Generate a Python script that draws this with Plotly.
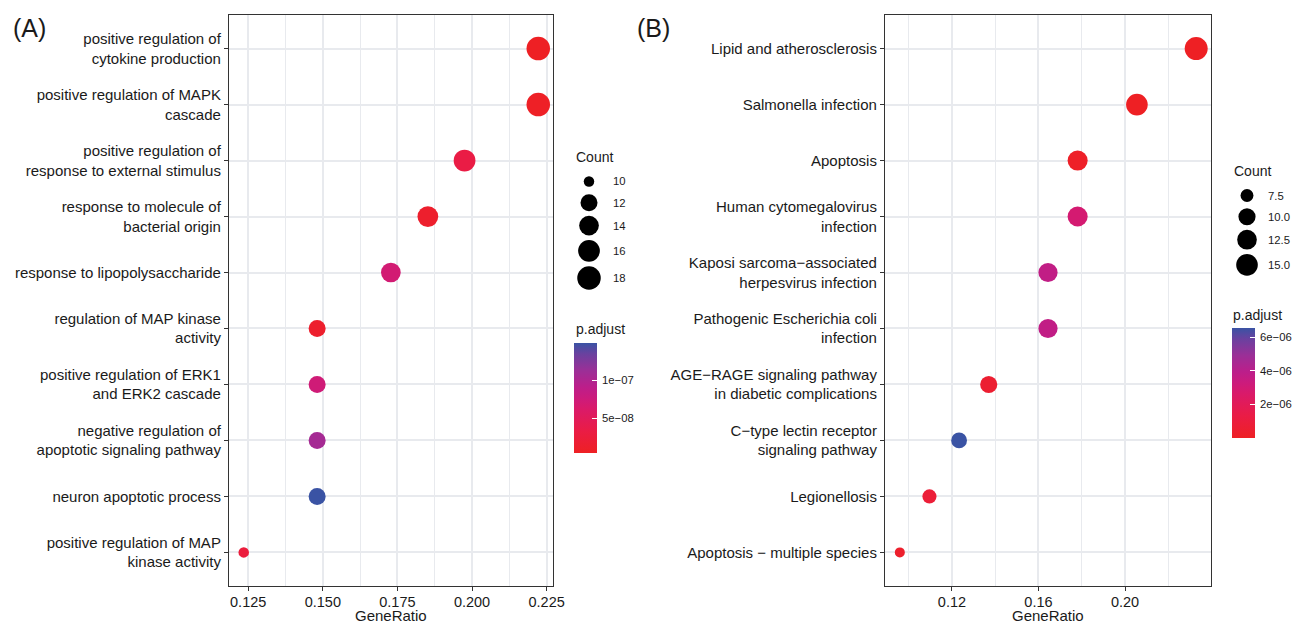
import numpy as np
import plotly.graph_objects as go

# ---------------- data ----------------
terms_a = [
    "positive regulation of<br>cytokine production",
    "positive regulation of MAPK<br>cascade",
    "positive regulation of<br>response to external stimulus",
    "response to molecule of<br>bacterial origin",
    "response to lipopolysaccharide",
    "regulation of MAP kinase<br>activity",
    "positive regulation of ERK1<br>and ERK2 cascade",
    "negative regulation of<br>apoptotic signaling pathway",
    "neuron apoptotic process",
    "positive regulation of MAP<br>kinase activity",
]
ratio_a = [0.2222, 0.2222, 0.1975, 0.1852, 0.1728, 0.1481, 0.1481, 0.1481, 0.1481, 0.1235]
count_a = [18, 18, 16, 15, 14, 12, 12, 12, 12, 10]
padj_a = [4e-09, 6e-09, 3.3e-08, 1.2e-08, 7.0e-08, 1.2e-08, 7.3e-08, 1.06e-07, 1.49e-07, 2.6e-08]

terms_b = [
    "Lipid and atherosclerosis",
    "Salmonella infection",
    "Apoptosis",
    "Human cytomegalovirus<br>infection",
    "Kaposi sarcoma\u2212associated<br>herpesvirus infection",
    "Pathogenic Escherichia coli<br>infection",
    "AGE\u2212RAGE signaling pathway<br>in diabetic complications",
    "C\u2212type lectin receptor<br>signaling pathway",
    "Legionellosis",
    "Apoptosis \u2212 multiple species",
]
ratio_b = [0.2329, 0.2055, 0.1781, 0.1781, 0.1644, 0.1644, 0.1370, 0.1233, 0.1096, 0.0959]
count_b = [17, 15, 13, 13, 12, 12, 10, 9, 8, 7]
padj_b = [1e-09, 2e-08, 1.5e-07, 2.9e-06, 3.7e-06, 3.7e-06, 5e-07, 6.54e-06, 8e-07, 3e-07]

xticks_a = [0.125, 0.150, 0.175, 0.200, 0.225]
xticks_b = [0.12, 0.16, 0.20]
size_breaks_a = [10, 12, 14, 16, 18]
size_labels_a = ["10", "12", "14", "16", "18"]
size_breaks_b = [7.5, 10, 12.5, 15]
size_labels_b = ["7.5", "10.0", "12.5", "15.0"]
cb_ticks_a = [5e-08, 1e-07]
cb_labels_a = ["5e\u221208", "1e\u221207"]
cb_ticks_b = [2e-06, 4e-06, 6e-06]
cb_labels_b = ["2e\u221206", "4e\u221206", "6e\u221206"]

# ---------------- styling ----------------
W, H = 1294, 624
FONT = "Liberation Sans, Arial, Helvetica, sans-serif"
TXT = "#1a1a1a"
GRID = "#E8EAEE"
FRAME = "#333333"
CS = [
    [0.0, "#EE2024"], [0.2, "#EA1C45"], [0.4, "#DA1A69"], [0.5, "#CC1B7C"],
    [0.6, "#BC1E8A"], [0.75, "#9B2F97"], [0.9, "#6A419F"], [1.0, "#3A53A4"],
]
AX_FONT = 15
LEG_FONT = 11.3
GAP = "\u2009"


def fx(p):
    return p / W


def fy(p):
    return 1 - p / H


def dsize(c, cmin, cmax, dmin=10.5, dmax=23.0):
    c = np.asarray(c, dtype=float)
    return dmin + (dmax - dmin) * np.sqrt((c - cmin) / (cmax - cmin))


def expand(v, f=0.05):
    lo, hi = min(v), max(v)
    d = (hi - lo) * f
    return [lo - d, hi + d]


fig = go.Figure()

panels = [
    dict(terms=terms_a, ratio=ratio_a, count=count_a, padj=padj_a, xt=xticks_a, fmt="{:.3f}",
         minor=0.0125, xd=(229, 553), xa="x", ya="y", cbx=574, cby=398,
         cbt=cb_ticks_a, cbl=cb_labels_a, dmin=10.5, dmax=23.5),
    dict(terms=terms_b, ratio=ratio_b, count=count_b, padj=padj_b, xt=xticks_b, fmt="{:.2f}",
         minor=0.02, xd=(885, 1211), xa="x2", ya="y2", cbx=1232, cby=383,
         cbt=cb_ticks_b, cbl=cb_labels_b, dmin=10.0, dmax=23.0),
]

PLOT_TOP, PLOT_BOT = 15, 586

for i, p in enumerate(panels):
    cmin, cmax = min(p["count"]), max(p["count"])
    fig.add_trace(go.Scatter(
        x=p["ratio"], y=p["terms"], mode="markers",
        xaxis=p["xa"], yaxis=p["ya"], showlegend=False, hoverinfo="x+y",
        marker=dict(
            size=dsize(p["count"], cmin, cmax, p["dmin"], p["dmax"]),
            color=p["padj"], cmin=min(p["padj"]), cmax=max(p["padj"]),
            colorscale=CS, line=dict(width=0), opacity=1,
            showscale=True,
            colorbar=dict(
                x=fx(p["cbx"]), xanchor="left", xref="paper",
                y=fy(p["cby"]), yanchor="middle", yref="paper",
                len=110, lenmode="pixels", thickness=23, thicknessmode="pixels",
                outlinewidth=0, xpad=0, ypad=0,
                tickvals=p["cbt"], ticktext=[GAP + t for t in p["cbl"]],
                ticks="inside", tickcolor="white", ticklen=5, tickwidth=1,
                tickfont=dict(family=FONT, size=LEG_FONT, color=TXT),
            ),
        ),
    ))
    sfx = "" if i == 0 else "2"
    rng = expand(p["ratio"])
    fig.layout["xaxis" + sfx] = dict(
        domain=[fx(p["xd"][0]), fx(p["xd"][1])], range=rng, anchor=p["ya"],
        tickvals=p["xt"], ticktext=[p["fmt"].format(t) for t in p["xt"]],
        showline=True, mirror=True, linecolor=FRAME, linewidth=1.2,
        ticks="outside", ticklen=4, tickcolor=FRAME, tickwidth=1.1,
        ticklabelstandoff=-2, automargin=False,
        showgrid=True, gridcolor=GRID, gridwidth=1.6, zeroline=False,
        minor=dict(dtick=p["minor"], tick0=p["xt"][0], showgrid=True,
                   gridcolor=GRID, gridwidth=0.9, ticks=""),
        tickfont=dict(family=FONT, size=14.5, color=TXT), fixedrange=True,
    )
    fig.layout["yaxis" + sfx] = dict(
        domain=[fy(PLOT_BOT), fy(PLOT_TOP)], anchor=p["xa"],
        type="category", categoryorder="array", categoryarray=p["terms"][::-1],
        range=[-0.6, len(p["terms"]) - 0.4], automargin=False,
        showline=True, mirror=True, linecolor=FRAME, linewidth=1.2,
        ticks="outside", ticklen=4, tickcolor=FRAME, tickwidth=1.1,
        showgrid=True, gridcolor=GRID, gridwidth=1.6, zeroline=False,
        tickfont=dict(family=FONT, size=AX_FONT, color=TXT), fixedrange=True,
    )

# ---------------- size legends (overlay pixel axis) ----------------
legends = [
    dict(breaks=size_breaks_a, labels=size_labels_a, cmin=min(count_a), cmax=max(count_a),
         dmin=10.5, dmax=23.5, kx=589, lx=611, tx=574, ty=157, y0=171, px=574, py=329),
    dict(breaks=size_breaks_b, labels=size_labels_b, cmin=min(count_b), cmax=max(count_b),
         dmin=10.0, dmax=23.0, kx=1247, lx=1266, tx=1232, ty=171, y0=185, px=1231, py=315),
]

annotations = []
for lg in legends:
    ds = dsize(lg["breaks"], lg["cmin"], lg["cmax"], lg["dmin"], lg["dmax"])
    hs = np.maximum(ds + 4.5, 21.0)
    centers = lg["y0"] + np.cumsum(hs) - hs / 2
    fig.add_trace(go.Scatter(
        x=[lg["kx"]] * len(ds), y=centers, mode="markers",
        xaxis="x3", yaxis="y3", showlegend=False, hoverinfo="skip",
        marker=dict(size=ds, color="#000000", opacity=1, line=dict(width=0)),
    ))
    for lab, cy in zip(lg["labels"], centers):
        annotations.append(dict(x=fx(lg["lx"]), y=fy(cy), xref="paper", yref="paper",
                                text=lab, showarrow=False, xanchor="left", yanchor="middle",
                                font=dict(family=FONT, size=LEG_FONT, color=TXT)))
    annotations.append(dict(x=fx(lg["tx"]), y=fy(lg["ty"]), xref="paper", yref="paper",
                            text="Count", showarrow=False, xanchor="left", yanchor="middle",
                            font=dict(family=FONT, size=14, color=TXT)))
    annotations.append(dict(x=fx(lg["px"]), y=fy(lg["py"]), xref="paper", yref="paper",
                            text="p.adjust", showarrow=False, xanchor="left", yanchor="middle",
                            font=dict(family=FONT, size=14, color=TXT)))

# axis titles and panel tags
for cx in [(229 + 553) / 2, (885 + 1211) / 2]:
    annotations.append(dict(x=fx(cx), y=fy(615.5), xref="paper", yref="paper", text="GeneRatio",
                            showarrow=False, xanchor="center", yanchor="middle",
                            font=dict(family=FONT, size=15, color=TXT)))
for tag, tx in [("(A)", 11), ("(B)", 635)]:
    annotations.append(dict(x=fx(tx), y=fy(28), xref="paper", yref="paper", text=tag,
                            showarrow=False, xanchor="left", yanchor="middle",
                            font=dict(family=FONT, size=25, color=TXT)))

fig.update_layout(
    width=W, height=H, margin=dict(l=0, r=0, t=0, b=0, pad=0, autoexpand=False),
    paper_bgcolor="white", plot_bgcolor="rgba(0,0,0,0)",
    xaxis3=dict(domain=[0, 1], range=[0, W], visible=False, anchor="y3", fixedrange=True),
    yaxis3=dict(domain=[0, 1], range=[H, 0], visible=False, anchor="x3", fixedrange=True),
    annotations=annotations,
    font=dict(family=FONT, color=TXT),
)

fig.write_html(
    "out.html",
    config={"displayModeBar": False},
    post_script="document.body.style.margin='0';document.body.style.overflow='hidden';",
)
